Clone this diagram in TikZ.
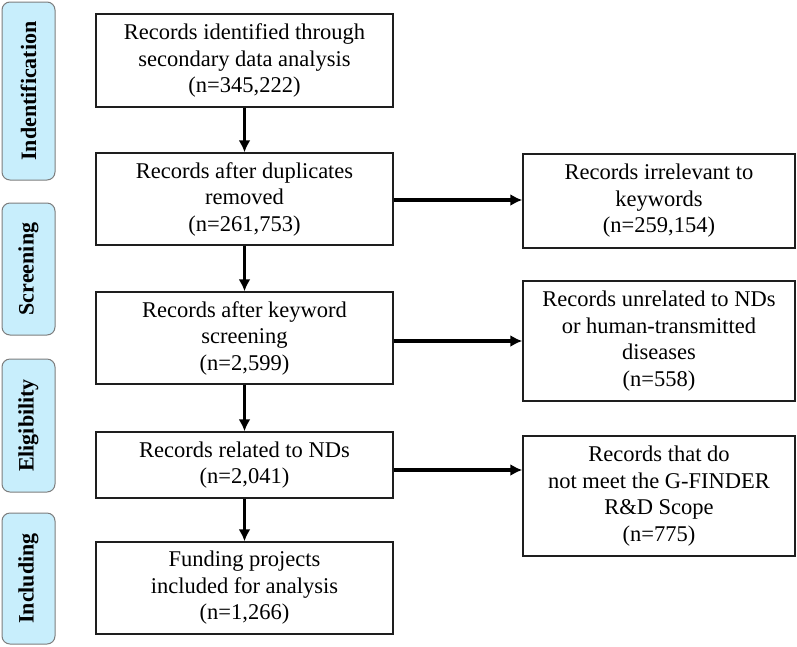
\documentclass[tikz,border=0pt]{standalone}
\usepackage{fontspec}
\setmainfont{Liberation Serif}
\usepackage{xcolor}
\usepackage{tikz}
\usetikzlibrary{
  arrows.meta,
  positioning
}
\definecolor{phasefill}{RGB}{200, 238, 252}
\definecolor{phaseedge}{RGB}{125, 125, 125}
\definecolor{boxedge}{RGB}{30, 30, 30}

\tikzset{
  recbox/.style={draw=boxedge, line width=1.4pt, fill=white, inner sep=0pt,
    align=center, font=\fontsize{22.5}{26.5}\selectfont, text=black},
  phasebox/.style={draw=phaseedge, line width=1pt, fill=phasefill, rounded corners=8pt,
    rotate=90, inner sep=0pt, minimum height=53pt,
    font=\fontsize{22}{26}\selectfont\bfseries},
  flowarrow/.style={line width=3.4pt, black, -{Latex[length=12pt, width=12pt]}}
}

\begin{document}
\begin{tikzpicture}[x=1pt, y=-1pt]
  \useasboundingbox (0, 0) rectangle (797, 646);
  % phase labels on the left
  \node[phasebox, minimum width=178pt] (pIdent) at (28.5, 91) {Indentification};
  \node[phasebox, minimum width=132pt] (pScreen) at (28.5, 269) {Screening};
  \node[phasebox, minimum width=133pt] (pElig) at (28.5, 425.5) {Eligibility};
  \node[phasebox, minimum width=131pt] (pIncl) at (28.5, 578.5) {Including};
  % main column
  \node[recbox, minimum width=297pt, minimum height=93pt] (b1) at (244.5, 60.5)
    {Records identified through\\secondary data analysis\\(n=345,222)};
  \node[recbox, minimum width=297pt, minimum height=92pt] (b2) at (244.5, 199)
    {Records after duplicates\\removed\\(n=261,753)};
  \node[recbox, minimum width=297pt, minimum height=92pt] (b3) at (244.5, 338)
    {Records after keyword\\screening\\(n=2,599)};
  \node[recbox, minimum width=297pt, minimum height=66pt] (b4) at (244.5, 465)
    {Records related to NDs\\(n=2,041)};
  \node[recbox, minimum width=297pt, minimum height=92pt] (b5) at (244.5, 588)
    {Funding projects\\included for analysis\\(n=1,266)};
  % excluded records
  \node[recbox, minimum width=272pt, minimum height=94pt] (r1) at (659, 201)
    {Records irrelevant to\\keywords\\(n=259,154)};
  \node[recbox, minimum width=272pt, minimum height=120pt] (r2) at (659, 341)
    {Records unrelated to NDs\\or human-transmitted\\diseases\\(n=558)};
  \node[recbox, minimum width=272pt, minimum height=120pt] (r3) at (659, 496)
    {Records that do\\not meet the G-FINDER\\R\&D Scope\\(n=775)};
  % arrows
  \draw[flowarrow] (b1) -- (b2);
  \draw[flowarrow] (b2) -- (b3);
  \draw[flowarrow] (b3) -- (b4);
  \draw[flowarrow] (b4) -- (b5);
  \coordinate (e2) at ([yshift=-1pt]b2.east);
  \coordinate (e3) at ([yshift=-3pt]b3.east);
  \coordinate (e4) at ([yshift=-5pt]b4.east);
  \draw[flowarrow] (e2) -- (e2 -| r1.west);
  \draw[flowarrow] (e3) -- (e3 -| r2.west);
  \draw[flowarrow] (e4) -- (e4 -| r3.west);
\end{tikzpicture}
\end{document}
